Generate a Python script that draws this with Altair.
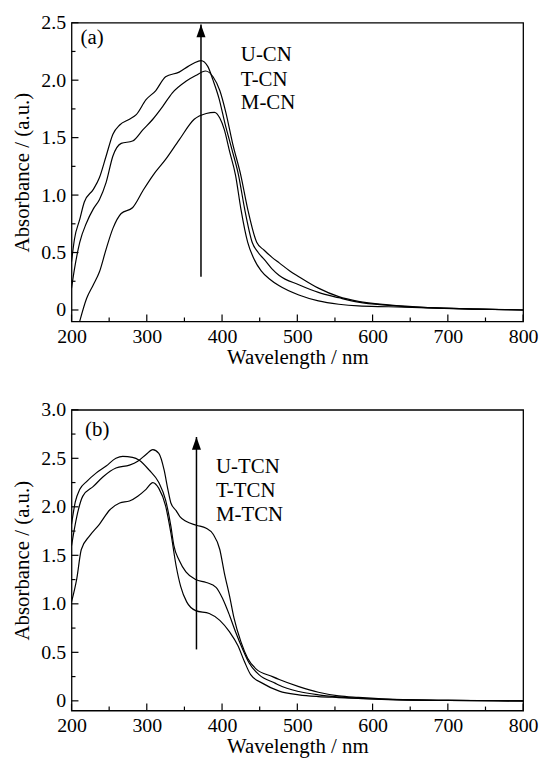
import altair as alt
import pandas as pd

# ---------------- data: panel (a) ----------------
ucn_wl = [200, 204, 211, 217, 229, 237, 246, 255, 264, 277, 286, 299, 312, 325, 343, 355, 363, 372, 381,
          388, 396, 404, 413, 422, 430, 440, 448, 456, 466, 476, 502, 528, 555, 581, 621, 673, 740, 800]
ucn_ab = [0.42, 0.62, 0.79, 0.94, 1.05, 1.15, 1.34, 1.53, 1.61, 1.66, 1.70, 1.83, 1.91, 2.03, 2.07, 2.12, 2.15, 2.17, 2.12,
          2.00, 1.84, 1.62, 1.40, 1.17, 0.88, 0.59, 0.50, 0.44, 0.36, 0.30, 0.22, 0.153, 0.107, 0.068, 0.040, 0.020, 0.008, 0.0]

tcn_wl = [200, 204, 211, 220, 229, 237, 246, 255, 266, 281, 295, 308, 321, 334, 352, 365, 378, 388, 397,
          405, 414, 425, 434, 446, 456, 466, 476, 490, 502, 528, 555, 581, 621, 673, 740, 800]
tcn_ab = [0.19, 0.36, 0.59, 0.76, 0.88, 0.96, 1.11, 1.34, 1.45, 1.47, 1.57, 1.66, 1.77, 1.89, 1.99, 2.04, 2.08, 2.03, 1.91,
          1.72, 1.45, 1.17, 0.88, 0.59, 0.52, 0.46, 0.41, 0.34, 0.29, 0.19, 0.116, 0.075, 0.044, 0.021, 0.008, 0.0]

mcn_wl = [210, 220, 229, 237, 246, 255, 266, 281, 295, 308, 325, 343, 363, 379, 390, 397, 403, 410, 418,
          425, 434, 442, 452, 463, 476, 502, 528, 555, 581, 621, 673, 740, 800]
mcn_ab = [-0.12, 0.10, 0.22, 0.33, 0.53, 0.71, 0.84, 0.89, 1.04, 1.17, 1.31, 1.48, 1.66, 1.71, 1.72, 1.67, 1.57, 1.38, 1.17,
          0.88, 0.59, 0.45, 0.34, 0.27, 0.21, 0.13, 0.079, 0.050, 0.035, 0.028, 0.018, 0.008, 0.0]

# ---------------- data: panel (b) ----------------
utcn_wl = [200, 207, 215, 229, 242, 259, 277, 288, 299, 308, 316, 323, 328, 332, 339, 344, 352, 366, 379,
           388, 397, 403, 410, 416, 425, 434, 445, 467, 476, 502, 528, 555, 581, 621, 700, 800]
utcn_ab = [1.60, 1.90, 2.11, 2.21, 2.31, 2.40, 2.43, 2.47, 2.54, 2.59, 2.55, 2.38, 2.18, 2.04, 1.96, 1.90, 1.85, 1.81, 1.78,
           1.72, 1.56, 1.32, 1.08, 0.85, 0.61, 0.44, 0.33, 0.25, 0.22, 0.147, 0.089, 0.051, 0.035, 0.017, 0.005, 0.0]

ttcn_wl = [200, 205, 211, 220, 233, 246, 259, 268, 281, 290, 303, 316, 325, 332, 336, 343, 352, 365, 379,
           392, 401, 410, 418, 427, 436, 449, 471, 476, 502, 528, 555, 581, 621, 700, 800]
ttcn_ab = [1.82, 2.05, 2.18, 2.26, 2.35, 2.42, 2.50, 2.52, 2.51, 2.48, 2.38, 2.25, 2.07, 1.80, 1.60, 1.45, 1.33, 1.25, 1.22,
           1.17, 1.05, 0.88, 0.71, 0.54, 0.39, 0.27, 0.18, 0.16, 0.096, 0.062, 0.041, 0.027, 0.015, 0.005, 0.0]

mtcn_wl = [200, 207, 213, 224, 237, 251, 264, 277, 288, 299, 308, 316, 325, 332, 339, 345, 353, 365, 383,
           397, 410, 421, 430, 438, 454, 476, 502, 528, 555, 581, 621, 700, 800]
mtcn_ab = [1.02, 1.26, 1.56, 1.70, 1.82, 1.97, 2.04, 2.06, 2.11, 2.18, 2.25, 2.19, 2.01, 1.73, 1.39, 1.18, 1.02, 0.93, 0.90,
           0.83, 0.71, 0.57, 0.40, 0.27, 0.18, 0.10, 0.062, 0.044, 0.034, 0.025, 0.013, 0.004, 0.0]

# ---------------- axes / annotations ----------------
x_major = [200, 300, 400, 500, 600, 700, 800]
x_minor = [250, 350, 450, 550, 650, 750]
ya_major = [0, 0.5, 1.0, 1.5, 2.0, 2.5]
ya_minor = [0.25, 0.75, 1.25, 1.75, 2.25]
yb_major = [0, 0.5, 1.0, 1.5, 2.0, 2.5, 3.0]
yb_minor = [0.25, 0.75, 1.25, 1.75, 2.25, 2.75]

a_names = ["U-CN", "T-CN", "M-CN"]
a_name_x = [425, 425, 425]
a_name_y = [2.22, 2.00, 1.80]
a_tag = "(a)"
a_tag_x, a_tag_y = 212, 2.37
a_arrow_x, a_arrow_y0, a_arrow_y1 = 372, 0.29, 2.485

b_names = ["U-TCN", "T-TCN", "M-TCN"]
b_name_x = [392, 392, 392]
b_name_y = [2.41, 2.16, 1.92]
b_tag = "(b)"
b_tag_x, b_tag_y = 218, 2.79
b_arrow_x, b_arrow_y0, b_arrow_y1 = 366, 0.53, 2.72

FONT = "Liberation Serif"
W = 455
ARROW = "M0,0L0.7,2L-0.7,2Z"


def long_df(series):
    rows = []
    for name, xs, ys in series:
        for x, y in zip(xs, ys):
            rows.append({"sample": name, "wl": x, "ab": y})
    return pd.DataFrame(rows)


def panel(series, ydom, ymaj, ymin, names, nx, ny, tag, tx, ty, ax, ay0, ay1, H):
    xscale = alt.Scale(domain=[200, 800], nice=False, zero=False)
    yscale = alt.Scale(domain=ydom, nice=False, zero=False)
    lab = "datum.value == 0 ? '0' : format(datum.value, '.1f')"
    xaxis = alt.Axis(values=x_major, title="Wavelength / nm", ticks=False, tickSize=0,
                     labelPadding=5, labelFontSize=20, titleFontSize=21, titlePadding=0,
                     labelFlush=False, labelOverlap=False, format="d")
    yaxis = alt.Axis(values=ymaj, title="Absorbance / (a.u.)", ticks=False, tickSize=0,
                     labelPadding=6, labelFontSize=20, titleFontSize=21, titlePadding=8,
                     labelFlush=False, labelOverlap=False, labelExpr=lab)

    def X(f):
        return alt.X(f, scale=xscale, axis=xaxis, title="Wavelength / nm")

    def Y(f):
        return alt.Y(f, scale=yscale, axis=yaxis, title="Absorbance / (a.u.)")

    lines = alt.Chart(long_df(series)).mark_line(
        color="black", strokeWidth=1.2, clip=True, interpolate="monotone"
    ).encode(x=X("wl:Q"), y=Y("ab:Q"), detail="sample:N")

    xt_major = pd.DataFrame({"v": x_major})
    xt_minor = pd.DataFrame({"v": x_minor})
    yt_major = pd.DataFrame({"v": ymaj})
    yt_minor = pd.DataFrame({"v": ymin})

    xticks_major = alt.Chart(xt_major).mark_rule(color="black", strokeWidth=1.2).encode(
        x=X("v:Q"), y=alt.value(H), y2=alt.value(H - 7))
    xticks_minor = alt.Chart(xt_minor).mark_rule(color="black", strokeWidth=1.2).encode(
        x=X("v:Q"), y=alt.value(H), y2=alt.value(H - 4))
    yticks_major = alt.Chart(yt_major).mark_rule(color="black", strokeWidth=1.2).encode(
        y=Y("v:Q"), x=alt.value(0), x2=alt.value(7))
    yticks_minor = alt.Chart(yt_minor).mark_rule(color="black", strokeWidth=1.2).encode(
        y=Y("v:Q"), x=alt.value(0), x2=alt.value(4))

    arrow_df = pd.DataFrame({"x": [ax], "y0": [ay0], "y1": [ay1]})
    shaft = alt.Chart(arrow_df).mark_rule(color="black", strokeWidth=1.5).encode(
        x=X("x:Q"), y=Y("y0:Q"), y2="y1:Q")
    head = alt.Chart(arrow_df).mark_point(shape=ARROW, filled=True, color="black", size=169,
                                          opacity=1, strokeWidth=0).encode(
        x=X("x:Q"), y=Y("y1:Q"))

    ann = pd.DataFrame({"t": names + [tag], "x": nx + [tx], "y": ny + [ty]})
    texts = alt.Chart(ann).mark_text(align="left", baseline="middle", font=FONT, fontSize=21,
                                     color="black").encode(
        x=X("x:Q"), y=Y("y:Q"), text="t:N")

    return alt.layer(lines, xticks_major, xticks_minor, yticks_major, yticks_minor,
                     shaft, head, texts).properties(width=W, height=H)


pa = panel([("U-CN", ucn_wl, ucn_ab), ("T-CN", tcn_wl, tcn_ab), ("M-CN", mcn_wl, mcn_ab)],
           [-0.1, 2.5], ya_major, ya_minor, a_names, a_name_x, a_name_y, a_tag, a_tag_x, a_tag_y,
           a_arrow_x, a_arrow_y0, a_arrow_y1, 301)
pb = panel([("U-TCN", utcn_wl, utcn_ab), ("T-TCN", ttcn_wl, ttcn_ab), ("M-TCN", mtcn_wl, mtcn_ab)],
           [-0.1, 3.0], yb_major, yb_minor, b_names, b_name_x, b_name_y, b_tag, b_tag_x, b_tag_y,
           b_arrow_x, b_arrow_y0, b_arrow_y1, 303)

chart = alt.vconcat(pa, pb, spacing=89, bounds="flush").properties(
    padding={"left": 3, "top": 1, "right": 0, "bottom": 0},
    background="white",
).configure_axis(
    labelFont=FONT, titleFont=FONT, labelColor="black", titleColor="black",
    titleFontWeight="normal", grid=False, domain=False,
).configure_view(stroke="black", strokeWidth=1.3)

chart.save("out.html", embed_options={"renderer": "svg", "actions": False})
